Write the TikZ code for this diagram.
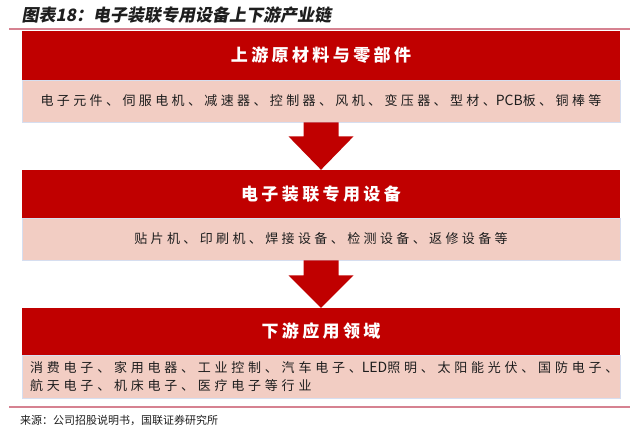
\documentclass[tikz,border=0pt]{standalone}
\usepackage{fontspec}
\setmainfont{Noto Sans CJK SC}
\newfontfamily\titlefont[FakeSlant=0.18]{Noto Sans CJK SC}
\newfontfamily\headfont[LetterSpace=20]{Noto Sans CJK SC}
\newfontfamily\bodyfont[LetterSpace=26]{Noto Sans CJK SC}
\newfontfamily\widefont[LetterSpace=29]{Noto Sans CJK SC}
\newfontfamily\srcfont{Noto Sans CJK SC}
\newcommand{\lat}[1]{{\srcfont\fontsize{14}{18}\selectfont #1}}
\usetikzlibrary{calc}
\definecolor{boxred}{RGB}{192,0,0}
\definecolor{boxpink}{RGB}{242,205,195}
\definecolor{pinkedge}{RGB}{214,222,240}
\definecolor{rulered}{RGB}{214,130,145}
\definecolor{txt}{RGB}{30,30,30}
\tikzset{
  redbox/.style={rectangle, fill=boxred, minimum width=598pt, inner sep=0pt, text=white,
    font=\headfont\bfseries\fontsize{17}{20}\selectfont},
  pinkbox/.style={rectangle, fill=boxpink, draw=pinkedge, line width=0.8pt, minimum width=598pt, inner sep=0pt,
    text=txt, font=\bodyfont\fontsize{13}{18}\selectfont},
  arr/.style={fill=boxred},
  rule/.style={draw=rulered, line width=1.2pt}
}
\begin{document}
\begin{tikzpicture}[x=1pt,y=-1pt]
\useasboundingbox (0,0) rectangle (636,438);
\node[anchor=west, text=txt, font=\titlefont\bfseries\fontsize{17}{20}\selectfont] (title) at (18,15) {图表18：电子装联专用设备上下游产业链};
\draw[rule] (9,29) -- (630,29);

\node[redbox, minimum height=49pt] (r1) at (321,55.5) {上游原材料与零部件};
\node[pinkbox, minimum height=42pt] (p1) at (321,101) {电子元件、伺服电机、减速器、控制器、风机、变压器、型材、\lat{PCB}板、铜棒等};

\node[redbox, minimum height=48pt] (r2) at (321,194) {电子装联专用设备};
\node[pinkbox, minimum height=42pt] (p2) at (321,239) {贴片机、印刷机、焊接设备、检测设备、返修设备等};

\node[redbox, minimum height=47pt] (r3) at (321,331.5) {下游应用领域};
\node[pinkbox, minimum height=43pt] (p3) at (321,377) {};
\node[anchor=west, inner sep=0pt, align=left, text=txt, font=\widefont\fontsize{13}{18}\selectfont] (t3) at (30,377)
  {消费电子、家用电器、工业控制、汽车电子、\lat{LED}照明、太阳能光伏、国防电子、\\航天电子、机床电子、医疗电子等行业};

\fill[arr] ($(p1.south)+(-17.5,0)$) -- ($(p1.south)+(17.5,0)$) -- ($(p1.south)+(17.5,14)$) -- ($(p1.south)+(32.5,14)$)
  -- (r2.north) -- ($(p1.south)+(-32.5,14)$) -- ($(p1.south)+(-17.5,14)$) -- cycle;
\fill[arr] ($(p2.south)+(-17.5,0)$) -- ($(p2.south)+(17.5,0)$) -- ($(p2.south)+(17.5,15)$) -- ($(p2.south)+(32.5,15)$)
  -- (r3.north) -- ($(p2.south)+(-32.5,15)$) -- ($(p2.south)+(-17.5,15)$) -- cycle;

\draw[rule] (9,407) -- (630,407);
\node[anchor=west, inner sep=0pt, text=txt, font=\srcfont\fontsize{11}{13}\selectfont] (src) at (20,420) {来源：公司招股说明书，国联证券研究所};
\end{tikzpicture}
\end{document}
